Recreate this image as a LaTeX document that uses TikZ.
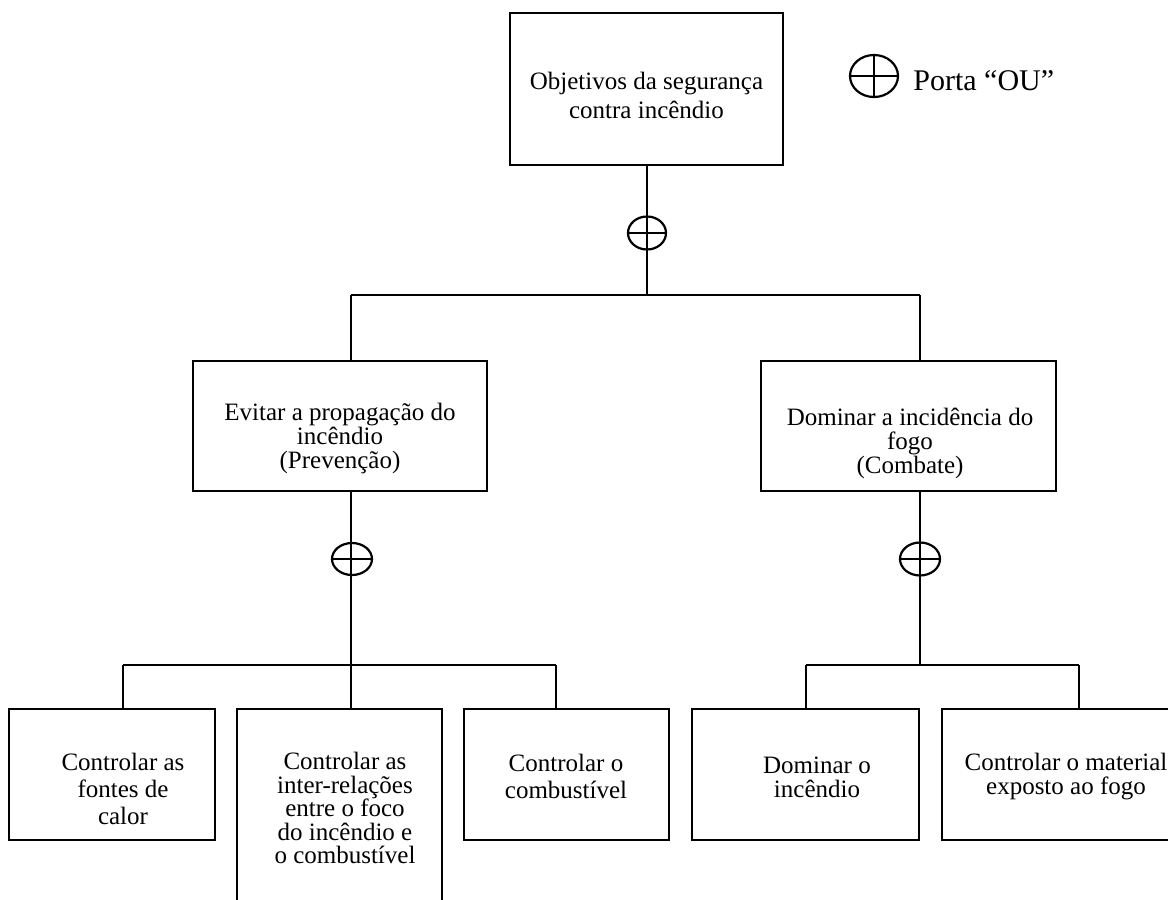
\documentclass[tikz,border=0pt]{standalone}
\usepackage{fontspec}
\setmainfont{Liberation Serif}
\usetikzlibrary{shapes.geometric,calc}
\newcommand\pxl[1]{#1*0.5pt}
\begin{document}
\begin{tikzpicture}[x=0.5pt,y=-0.5pt,
  box/.style={draw, line width=0.9pt, rectangle, inner sep=0pt},
  lbl/.style={align=center, inner sep=0pt},
  conn/.style={line width=0.7pt},
  gate/.style={draw, ellipse, line width=1.1pt, inner sep=0pt}]
\useasboundingbox (0,0) rectangle (1168,900);
\clip (0,0) rectangle (1168,900);
% boxes
\node[box, minimum width=\pxl{273}, minimum height=\pxl{152}] (top) at (646.5,89) {};
\node[box, minimum width=\pxl{294}, minimum height=\pxl{130}] (prev) at (340,426) {};
\node[box, minimum width=\pxl{295}, minimum height=\pxl{130}] (comb) at (908.5,426) {};
\node[box, minimum width=\pxl{206}, minimum height=\pxl{131}] (b1) at (112,774.5) {};
\node[box, minimum width=\pxl{205}, minimum height=\pxl{221}] (b2) at (339.5,819.5) {};
\node[box, minimum width=\pxl{205}, minimum height=\pxl{131}] (b3) at (566.5,774.5) {};
\node[box, minimum width=\pxl{227}, minimum height=\pxl{131}] (b4) at (805.5,774.5) {};
\node[box, minimum width=\pxl{258}, minimum height=\pxl{131}] (b5) at (1071,774.5) {};
% labels
\node[lbl, font=\fontsize{12.5}{14.5}\selectfont] (ttop) at (646.5,95) {Objetivos da segurança\\contra incêndio};
\node[lbl, font=\fontsize{12.5}{12}\selectfont] (tprev) at (340,438) {Evitar a propagação do\\incêndio\\(Prevenção)};
\node[lbl, font=\fontsize{12.5}{12}\selectfont] (tcomb) at (910,443) {Dominar a incidência do\\fogo\\(Combate)};
\node[lbl, font=\fontsize{12.5}{13.5}\selectfont] (tb1) at (123,789) {Controlar as\\fontes de\\calor};
\node[lbl, font=\fontsize{12.5}{11.75}\selectfont] (tb2) at (345,808) {Controlar as\\inter-relações\\entre o foco\\do incêndio e\\o combustível};
\node[lbl, font=\fontsize{12.5}{13.5}\selectfont] (tb3) at (566,776) {Controlar o\\combustível};
\node[lbl, font=\fontsize{12.5}{12}\selectfont] (tb4) at (817,777) {Dominar o\\incêndio};
\node[lbl, font=\fontsize{12.5}{12}\selectfont] (tb5) at (1066,777) {Controlar o material\\exposto ao fogo};
% gates
\node[gate, minimum width=\pxl{38}, minimum height=\pxl{33}] (g1) at (647,233) {};
\node[gate, minimum width=\pxl{40}, minimum height=\pxl{32}] (g2) at (352,559) {};
\node[gate, minimum width=\pxl{40}, minimum height=\pxl{33}] (g3) at (920,559) {};
\draw[line width=1.1pt] (g1.west) -- (g1.east);
\draw[line width=1.1pt] (g2.west) -- (g2.east);
\draw[line width=1.1pt] (g3.west) -- (g3.east);
% legend
\node[gate, minimum width=\pxl{48}, minimum height=\pxl{42}] (leg) at (874,76) {};
\draw[line width=1.1pt] (leg.west) -- (leg.east);
\draw[line width=1.1pt] (leg.north) -- (leg.south);
\node[anchor=base west, inner sep=0pt, font=\fontsize{15}{18}\selectfont] (legt) at (913,90) {Porta “OU”};
% connector coordinates
\coordinate (j1) at (647,295);
\coordinate (j1l) at (351,295);
\coordinate (j1r) at (920,295);
\coordinate (j2) at (351,665);
\coordinate (j2l) at (123,665);
\coordinate (j2r) at (556,665);
\coordinate (j3) at (920,665);
\coordinate (j3l) at (806,665);
\coordinate (j3r) at (1079,665);
% connectors
\draw[conn] (j1 |- top.south) -- (j1);
\draw[conn] (j1l) -- (j1r);
\draw[conn] (j1l) -- (j1l |- prev.north);
\draw[conn] (j1r) -- (j1r |- comb.north);
\draw[conn] (j2 |- prev.south) -- (j2);
\draw[conn] (j2l) -- (j2r);
\draw[conn] (j2l) -- (j2l |- b1.north);
\draw[conn] (j2) -- (j2 |- b2.north);
\draw[conn] (j2r) -- (j2r |- b3.north);
\draw[conn] (j3 |- comb.south) -- (j3);
\draw[conn] (j3l) -- (j3r);
\draw[conn] (j3l) -- (j3l |- b4.north);
\draw[conn] (j3r) -- (j3r |- b5.north);
\end{tikzpicture}
\end{document}
